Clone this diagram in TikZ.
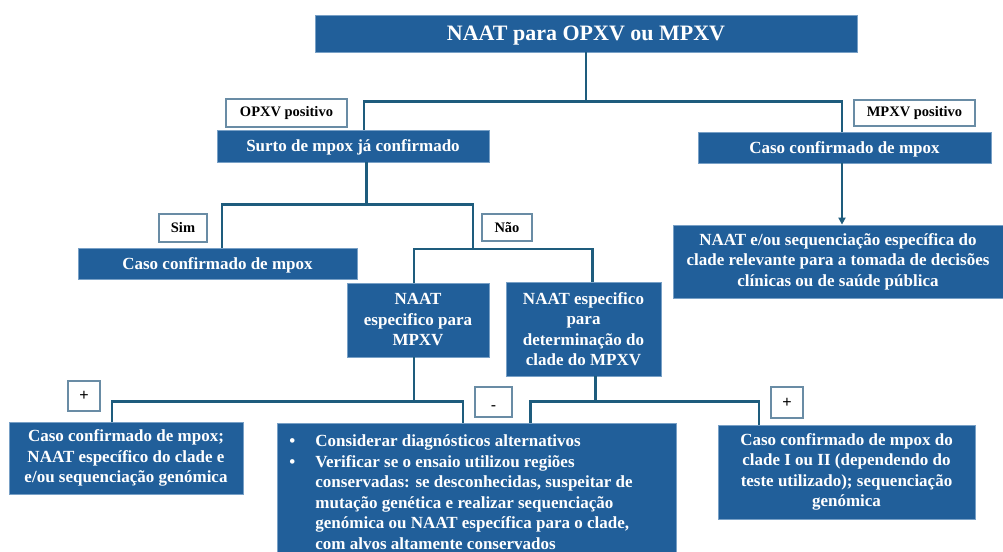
\documentclass[tikz,border=0pt]{standalone}
\usepackage{fontspec}
\setmainfont{Liberation Serif}
\setsansfont{Liberation Sans}
\usetikzlibrary{arrows.meta}
\usetikzlibrary{positioning}
\definecolor{boxblue}{RGB}{33,95,154}
\definecolor{boxedge}{RGB}{120,160,198}
\definecolor{linkteal}{RGB}{30,92,125}
\definecolor{tagedge}{RGB}{105,140,165}

\newcommand{\bulletline}[1]{\par\noindent\hangindent=38pt\hangafter=1\makebox[38pt][l]{\hspace{12pt}\textbullet}#1}

\tikzset{
  stepbox/.style={fill=boxblue, draw=boxedge, line width=0.8pt, text=white,
    font=\bfseries\fontsize{17}{20.5}\selectfont, align=center, inner sep=0pt},
  flatline/.style={text depth=0pt},
  tagbox/.style={fill=white, draw=tagedge, line width=1.2pt, text=black,
    font=\bfseries\fontsize{14.5}{17}\selectfont, inner sep=0pt},
  signbox/.style={tagbox, font=\sffamily\fontsize{16}{18}\selectfont},
  link/.style={draw=linkteal, line width=2.2pt},
}

\begin{document}
\begin{tikzpicture}[x=1pt, y=-1pt]
  \useasboundingbox (0,0) rectangle (1003,551);

  % top level
  \node[stepbox, flatline, minimum width=542pt, minimum height=37pt, font=\bfseries\fontsize{22}{26}\selectfont]
    (naat) at (586,33.5) {NAAT para OPXV ou MPXV};
  \node[tagbox, minimum width=121pt, minimum height=28pt] (opxv) at (286.5,113) {OPXV positivo};
  \node[tagbox, minimum width=121pt, minimum height=26pt] (mpxv) at (914.5,113) {MPXV positivo};
  \node[stepbox, flatline, minimum width=272pt, minimum height=32pt] (surto) at (353,146) {Surto de mpox já confirmado};
  \node[stepbox, flatline, minimum width=293pt, minimum height=31pt] (casoR) at (844.5,147.5) {Caso confirmado de mpox};
  \node[stepbox, minimum width=330pt, minimum height=73pt] (naatR) at (838,261.5)
    {NAAT e/ou sequenciação específica do\\clade relevante para a tomada de decisões\\clínicas ou de saúde pública};

  % outbreak branch
  \node[tagbox, minimum width=48pt, minimum height=28pt] (sim) at (183,228) {Sim};
  \node[tagbox, minimum width=50pt, minimum height=27pt] (nao) at (507,227.5) {Não};
  \node[stepbox, flatline, minimum width=279pt, minimum height=31pt] (casoSim) at (217.5,263.5) {Caso confirmado de mpox};
  \node[stepbox, minimum width=142pt, minimum height=74pt] (naatMPXV) at (418,320)
    {NAAT\\especifico para\\MPXV};
  \node[stepbox, minimum width=155pt, minimum height=94pt] (naatClade) at (583.5,329)
    {NAAT especifico\\para\\determinação do\\clade do MPXV};

  % results
  \node[signbox, minimum width=32pt, minimum height=30pt] (plusL) at (84,396) {+};
  \node[signbox, minimum width=37pt, minimum height=30pt, text height=16pt, text depth=0pt] (minus) at (493.5,402) {-};
  \node[signbox, minimum width=32pt, minimum height=31pt] (plusR) at (787,402.5) {+};
  \node[stepbox, minimum width=234pt, minimum height=72pt] (casoL) at (126,458)
    {Caso confirmado de mpox;\\NAAT específico do clade e\\e/ou sequenciação genómica};
  \node[stepbox, minimum width=257pt, minimum height=94pt] (casoClade) at (846.5,472)
    {Caso confirmado de mpox do\\clade I ou II (dependendo do\\teste utilizado); sequenciação\\genómica};
  \node[stepbox, anchor=north west, text width=399pt, minimum height=129pt, align=none] (alt) at (277,423)
    {\raggedright
     \bulletline{Considerar diagnósticos alternativos}
     \bulletline{Verificar se o ensaio utilizou regiões\newline conservadas: se desconhecidas, suspeitar de\newline
       mutação genética e realizar sequenciação\newline genómica ou NAAT específica para o clade,\newline
       com alvos altamente conservados}\par};

  % connectors
  \draw[link] (naat.south) -- ++(0,49) -| ([xshift=11pt]surto.north);
  \draw[link] (naat.south) -- ++(0,49) -| ([xshift=-2.5pt]casoR.north);
  \draw[link, -{Triangle[length=7pt,width=7pt]}] ([xshift=-2.5pt]casoR.south) -- ([xshift=-2.5pt]casoR.south |- naatR.north);

  \coordinate (naoSplit) at (473,249.3);
  \draw[link] ([xshift=13.5pt]surto.south) -- ++(0,42) -| ([xshift=4.5pt]casoSim.north);
  \draw[link] ([xshift=13.5pt]surto.south) -- ++(0,42) -| (naoSplit);
  \draw[link] ([xshift=-4pt]naatMPXV.north) |- (naoSplit) -| ([xshift=9pt]naatClade.north);

  \draw[link] ([xshift=-4pt]naatMPXV.south) -- ++(0,44) -| ([xshift=-14pt]casoL.north);
  \draw[link] ([xshift=-4pt]naatMPXV.south) -- ++(0,44) -| ([xshift=-14pt]alt.north);
  \draw[link] ([xshift=12pt]naatClade.south) -- ++(0,25) -| ([xshift=53.5pt]alt.north);
  \draw[link] ([xshift=12pt]naatClade.south) -- ++(0,25) -| ([xshift=-87.5pt]casoClade.north);
\end{tikzpicture}
\end{document}
